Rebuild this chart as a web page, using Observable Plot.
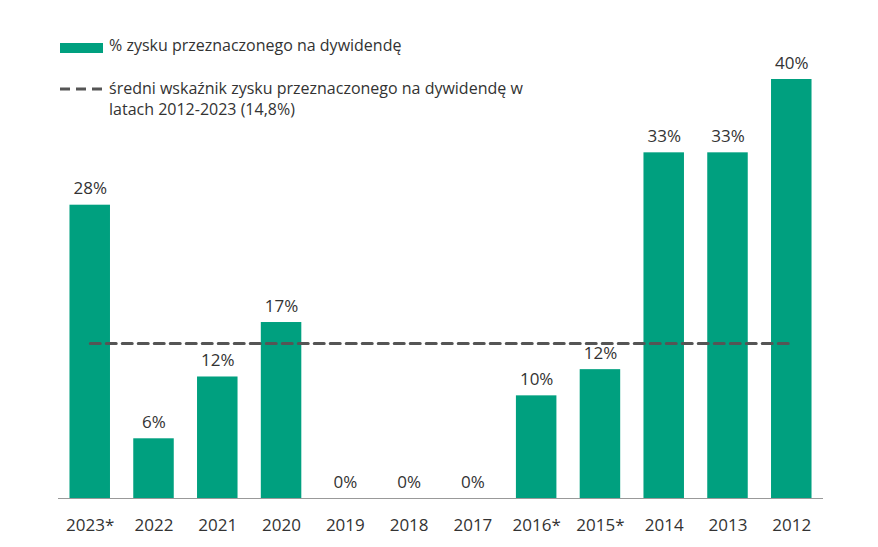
<!DOCTYPE html>
<html>
<head>
<meta charset="utf-8">
<script src="https://cdn.jsdelivr.net/npm/d3@7"></script>
<script src="https://cdn.jsdelivr.net/npm/@observablehq/plot@0.6"></script>
<style>
  html, body { margin: 0; padding: 0; background: #fff; }
  #wrap { position: relative; width: 878px; height: 547px; font-family: "Open Sans", sans-serif; color: #333; }
  #chart { position: absolute; left: 0; top: 0; }
  .leg { position: absolute; font-size: 16px; line-height: 21px; color: #333; }
  .sw { position: absolute; }
</style>
</head>
<body>
<div id="wrap">
  <div id="chart"></div>
  <div class="sw" style="left:60px; top:43px; width:43px; height:10px; background:#00a07f;"></div>
  <div class="leg" style="left:109px; top:35px;">% zysku przeznaczonego na dywidendę</div>
  <svg class="sw" style="left:60px; top:86px;" width="44" height="6"><line x1="0" x2="44" y1="3" y2="3" stroke="#555" stroke-width="3" stroke-dasharray="10,6"/></svg>
  <div class="leg" style="left:109px; top:78px;">średni wskaźnik zysku przeznaczonego na dywidendę w<br>latach 2012-2023 (14,8%)</div>
</div>
<script>
const years = ["2023*", "2022", "2021", "2020", "2019", "2018", "2017", "2016*", "2015*", "2014", "2013", "2012"];
const values = [28.0, 5.7, 11.6, 16.8, 0, 0, 0, 9.8, 12.3, 33.0, 33.0, 40.0];
const labels = ["28%", "6%", "12%", "17%", "0%", "0%", "0%", "10%", "12%", "33%", "33%", "40%"];
const average = 14.8;

const data = years.map((y, i) => ({year: y, value: values[i], label: labels[i]}));
const avgLine = [{year: years[0], value: average}, {year: years[years.length - 1], value: average}];

const plot = Plot.plot({
  width: 878,
  height: 547,
  marginLeft: 58,
  marginRight: 55,
  marginTop: 79,
  marginBottom: 49,
  style: {fontFamily: "Open Sans, sans-serif", fontSize: "17px", color: "#333", background: "transparent"},
  x: {domain: years, paddingInner: 0.365, paddingOuter: 0.18, round: false, label: null, tickSize: 0, tickPadding: 20},
  y: {domain: [0, 40], axis: null},
  marks: [
    Plot.barY(data, {x: "year", y: "value", fill: "#00a07f"}),
    Plot.ruleY([0], {stroke: "#999", strokeWidth: 1}),
    Plot.lineY(avgLine, {x: "year", y: "value", stroke: "#555", strokeWidth: 3, strokeDasharray: "10,6"}),
    Plot.text(data, {x: "year", y: "value", text: "label", lineAnchor: "bottom", dy: -11, fill: "#333", fontSize: 17})
  ]
});
document.getElementById("chart").appendChild(plot);
</script>
</body>
</html>
